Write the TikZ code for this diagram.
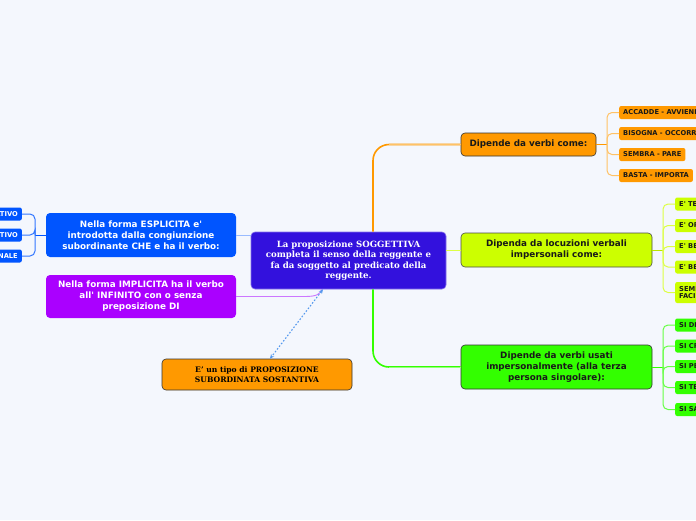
\documentclass[tikz,border=0pt]{standalone}
\usepackage{fontspec}
\setmainfont{DejaVu Serif}
\newfontfamily\vf{DejaVu Sans}
\usetikzlibrary{arrows.meta}
\definecolor{bgc}{HTML}{F4F7FD}
\definecolor{cen}{HTML}{3311DD}
\definecolor{blu}{HTML}{0055FF}
\definecolor{pur}{HTML}{AA00FF}
\definecolor{ora}{HTML}{FF9900}
\definecolor{yel}{HTML}{CCFF00}
\definecolor{grn}{HTML}{33FF00}
\definecolor{oral}{HTML}{FFC266}
\definecolor{yell}{HTML}{DDFF44}
\definecolor{grnl}{HTML}{66FF44}
\definecolor{blul}{HTML}{99BBFF}
\definecolor{purl}{HTML}{CC77FF}
\definecolor{dotc}{HTML}{5599EE}
\begin{document}
\begin{tikzpicture}[x=1pt,y=-1pt,
  mainbox/.style={rounded corners=4pt,inner sep=0pt,align=center},
  sansbox/.style={mainbox,font=\vf\bfseries\fontsize{8.8}{11}\selectfont},
  serifbox/.style={mainbox,font=\bfseries\fontsize{8.6}{10.5}\selectfont},
  leafbox/.style={rounded corners=2pt,inner xsep=4pt,inner ysep=0pt,minimum height=13pt,align=left,
     font=\vf\bfseries\fontsize{6.7}{7.5}\selectfont,text=black!90},
  edgeline/.style={rounded corners=5pt}
]
\fill[bgc] (0,0) rectangle (696,520);
\useasboundingbox (0,0) rectangle (696,520);
\begin{scope}
\clip (0,0) rectangle (696,520);
% central
\node[serifbox,fill=cen,draw=cen!60!white,line width=0.6pt,text=white,minimum width=195pt,minimum height=57pt] (c) at (348.5,260.5)
 {La proposizione SOGGETTIVA\\completa il senso della reggente e\\fa da soggetto al predicato della\\reggente.};
% left branches
\node[sansbox,fill=blu,text=white,minimum width=190pt,minimum height=44pt] (esp) at (141,235)
 {Nella forma ESPLICITA e'\\introdotta dalla congiunzione\\subordinante CHE e ha il verbo:};
\node[sansbox,fill=pur,text=white,minimum width=190pt,minimum height=43pt] (imp) at (141,296.5)
 {Nella forma IMPLICITA ha il verbo\\all' INFINITO con o senza\\preposizione DI};
\node[serifbox,fill=ora,draw=black!80,line width=0.6pt,text=black,font=\bfseries\fontsize{7.6}{10}\selectfont,minimum width=190pt,minimum height=31pt] (tip) at (257,374.5)
 {E' un tipo di PROPOSIZIONE\\SUBORDINATA SOSTANTIVA};
% right branches
\node[sansbox,fill=ora,draw=black!80,line width=0.6pt,text=black!90,minimum width=135pt,minimum height=23pt] (ov) at (528.5,144.5)
 {Dipende da verbi come:};
\node[sansbox,fill=yel,draw=black!70,line width=0.6pt,text=black!90,minimum width=191pt,minimum height=34pt] (yl) at (556.5,250)
 {Dipenda da locuzioni verbali\\impersonali come:};
\node[sansbox,fill=grn,draw=black!80,line width=0.6pt,text=black!90,minimum width=191pt,minimum height=44pt] (gv) at (556.5,367)
 {Dipende da verbi usati\\impersonalmente (alla terza\\persona singolare):};
% left leaves
\node[leafbox,fill=blu,text=white,anchor=east] (l1) at (22,214) {INDICATIVO};
\node[leafbox,fill=blu,text=white,anchor=east] (l2) at (22,235) {CONGIUNTIVO};
\node[leafbox,fill=blu,text=white,anchor=east] (l3) at (22,256) {CONDIZIONALE};
% orange leaves
\node[leafbox,fill=ora,anchor=west] (o1) at (619,112.5) {ACCADDE - AVVIENE};
\node[leafbox,fill=ora,anchor=west] (o2) at (619,133.5) {BISOGNA - OCCORRE};
\node[leafbox,fill=ora,anchor=west] (o3) at (619,154.5) {SEMBRA - PARE};
\node[leafbox,fill=ora,anchor=west] (o4) at (619,175.5) {BASTA - IMPORTA};
% yellow leaves
\node[leafbox,fill=yel,anchor=west] (y1) at (675,204) {E' TEMPO};
\node[leafbox,fill=yel,anchor=west] (y2) at (675,225.5) {E' OPPORTUNO};
\node[leafbox,fill=yel,anchor=west] (y3) at (675,246.5) {E' BENE};
\node[leafbox,fill=yel,anchor=west] (y4) at (675,267) {E' BELLO};
\node[leafbox,fill=yel,anchor=west,minimum height=21pt] (y5) at (675,292.5) {SEMBRA\\FACILE};
% green leaves
\node[leafbox,fill=grn,anchor=west] (g1) at (675,325) {SI DICE};
\node[leafbox,fill=grn,anchor=west] (g2) at (675,346) {SI CREDE};
\node[leafbox,fill=grn,anchor=west] (g3) at (675,366.5) {SI PENSA};
\node[leafbox,fill=grn,anchor=west] (g4) at (675,387.5) {SI TEME};
\node[leafbox,fill=grn,anchor=west] (g5) at (675,409.5) {SI SA};
% connectors from center
\draw[ora,line width=1.6pt,rounded corners=16pt] ([xshift=24.5pt]c.north) |- (ov.west);
\draw[oral,line width=0.8pt] ([xshift=24.5pt]c.north |- ov.west) ++(16,0) -- (ov.west);
\draw[grn,line width=1.6pt,rounded corners=16pt] ([xshift=24.5pt]c.south) |- (gv.west);
\draw[grnl!70!white,line width=0.8pt] ([xshift=24.5pt]c.south |- gv.west) ++(16,0) -- (gv.west);
\draw[yell,line width=0.8pt] (c.east |- yl.west) -- (yl.west);
\draw[blul,line width=0.8pt] (c.west |- esp.east) -- (esp.east);
\draw[purl,line width=0.9pt] (imp.east) -- (305,296.5) .. controls (317,296.5) and (320,294) .. ([xshift=-26.5pt]c.south);
\draw[dotc,line width=1.1pt,dash pattern=on 1.6pt off 1.8pt,{Stealth[length=4.5pt,width=4pt]}-{Stealth[length=4.5pt,width=4pt]}]
  ([xshift=-25.5pt]c.south) -- ([xshift=13pt]tip.north);
% brackets
\coordinate (ob) at (607,144.5);
\draw[ora,line width=1pt] (ov.east) -- (ob);
\foreach \n in {o1,o2,o3,o4} \draw[oral,line width=1pt,edgeline] (ob) |- (\n.west);
\coordinate (yb) at (663,250);
\draw[yel!90!black,line width=1pt] (yl.east) -- (yb);
\foreach \n in {y1,y2,y3,y4,y5} \draw[yell,line width=1pt,edgeline] (yb) |- (\n.west);
\coordinate (gb) at (663,367);
\draw[grn,line width=1pt] (gv.east) -- (gb);
\foreach \n in {g1,g2,g3,g4,g5} \draw[grnl,line width=1pt,edgeline] (gb) |- (\n.west);
\coordinate (lb) at (35,235);
\draw[blu,line width=1pt] (esp.west) -- (lb);
\foreach \n in {l1,l2,l3} \draw[blu!80!white,line width=1pt,edgeline] (lb) |- (\n.east);
\end{scope}
\end{tikzpicture}
\end{document}
